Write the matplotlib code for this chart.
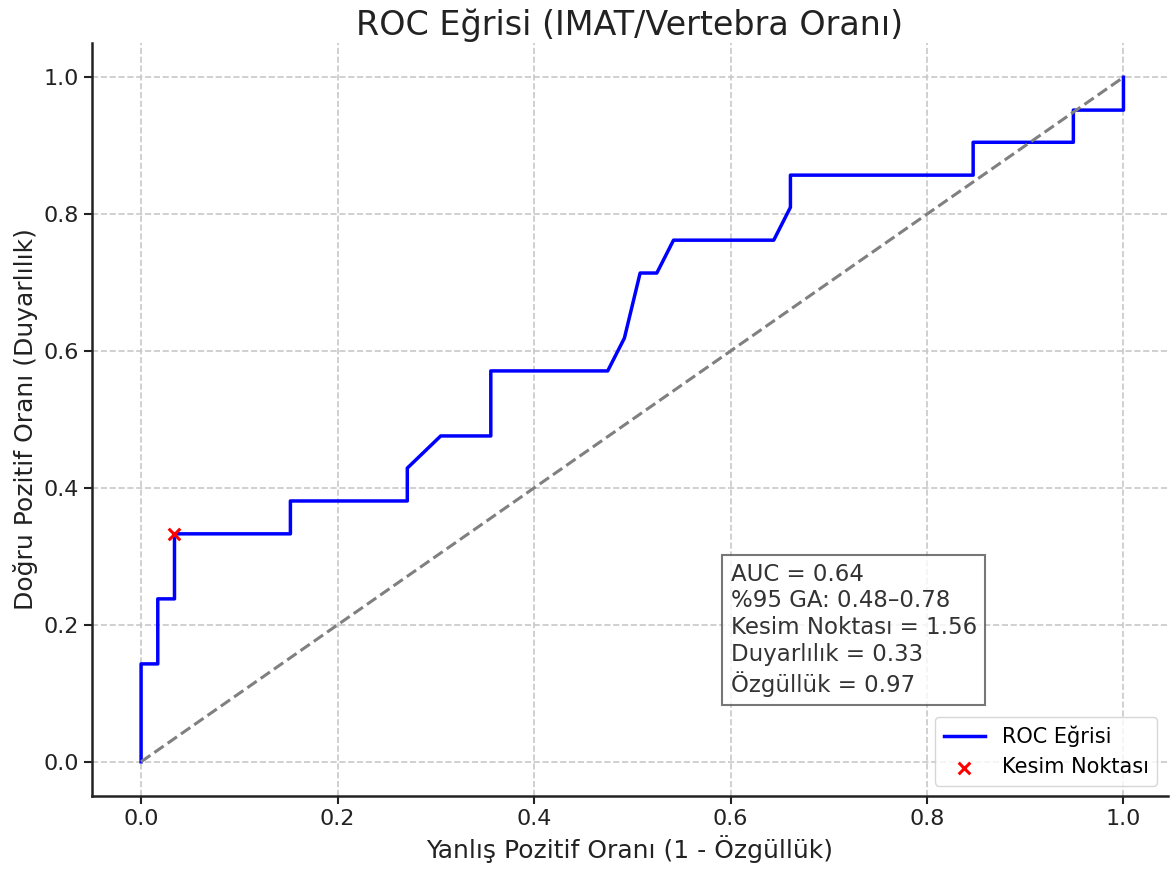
import matplotlib
matplotlib.use("Agg")
import matplotlib.pyplot as plt

# ROC curve points
fpr = [0.0, 0.0, 0.017, 0.017, 0.034, 0.034, 0.152, 0.152, 0.271, 0.271, 0.305,
       0.356, 0.356, 0.475, 0.492, 0.508, 0.525, 0.542, 0.644, 0.661, 0.661,
       0.847, 0.847, 0.949, 0.949, 1.0, 1.0]
tpr = [0.0, 0.143, 0.143, 0.238, 0.238, 0.333, 0.333, 0.381, 0.381, 0.429, 0.476,
       0.476, 0.571, 0.571, 0.619, 0.714, 0.714, 0.762, 0.762, 0.810, 0.857,
       0.857, 0.905, 0.905, 0.952, 0.952, 1.0]

# cut-off point
cut_fpr = 0.034
cut_tpr = 0.333

stats_lines = [
    "AUC = 0.64",
    "%95 GA: 0.48\u20130.78",
    "Kesim Noktası = 1.56",
    "Duyarlılık = 0.33",
    "Özgüllük = 0.97",
]

fig = plt.figure(figsize=(11.7, 8.71), dpi=100)
ax = fig.add_axes([0.0786, 0.0861, 0.9194, 0.8645])

ax.plot(fpr, tpr, color="blue", lw=2.5, label="ROC Eğrisi")
ax.plot([0, 1], [0, 1], linestyle="--", color="gray", lw=2.2)
ax.scatter([cut_fpr], [cut_tpr], marker="x", color="red", s=70, lw=2.2,
           zorder=5, label="Kesim Noktası")

ax.text(0.6, 0.095, "\n".join(stats_lines), fontsize=16.5, color="#333333",
        va="bottom", ha="left", linespacing=1.22,
        bbox=dict(boxstyle="square,pad=0.35", facecolor="white",
                  edgecolor="#555555", alpha=0.8, lw=1.5))

ax.set_title("ROC Eğrisi (IMAT/Vertebra Oranı)", fontsize=24, color="#222222")
ax.set_xlabel("Yanlış Pozitif Oranı (1 - Özgüllük)", fontsize=18, color="#222222")
ax.set_ylabel("Doğru Pozitif Oranı (Duyarlılık)", fontsize=18, color="#222222")
ax.tick_params(labelsize=16, width=1.5, length=6, colors="#222222")
ax.set_xlim(-0.05, 1.045)
ax.set_ylim(-0.05, 1.05)
ax.grid(True, linestyle="--", color="#c8c8c8", lw=1.2)
for s in ["top", "right"]:
    ax.spines[s].set_visible(False)
for s in ["left", "bottom"]:
    ax.spines[s].set_linewidth(1.8)
    ax.spines[s].set_color("#222222")

ax.legend(loc="lower right", fontsize=15, framealpha=0.8)

fig.savefig("out.png", dpi=100)
